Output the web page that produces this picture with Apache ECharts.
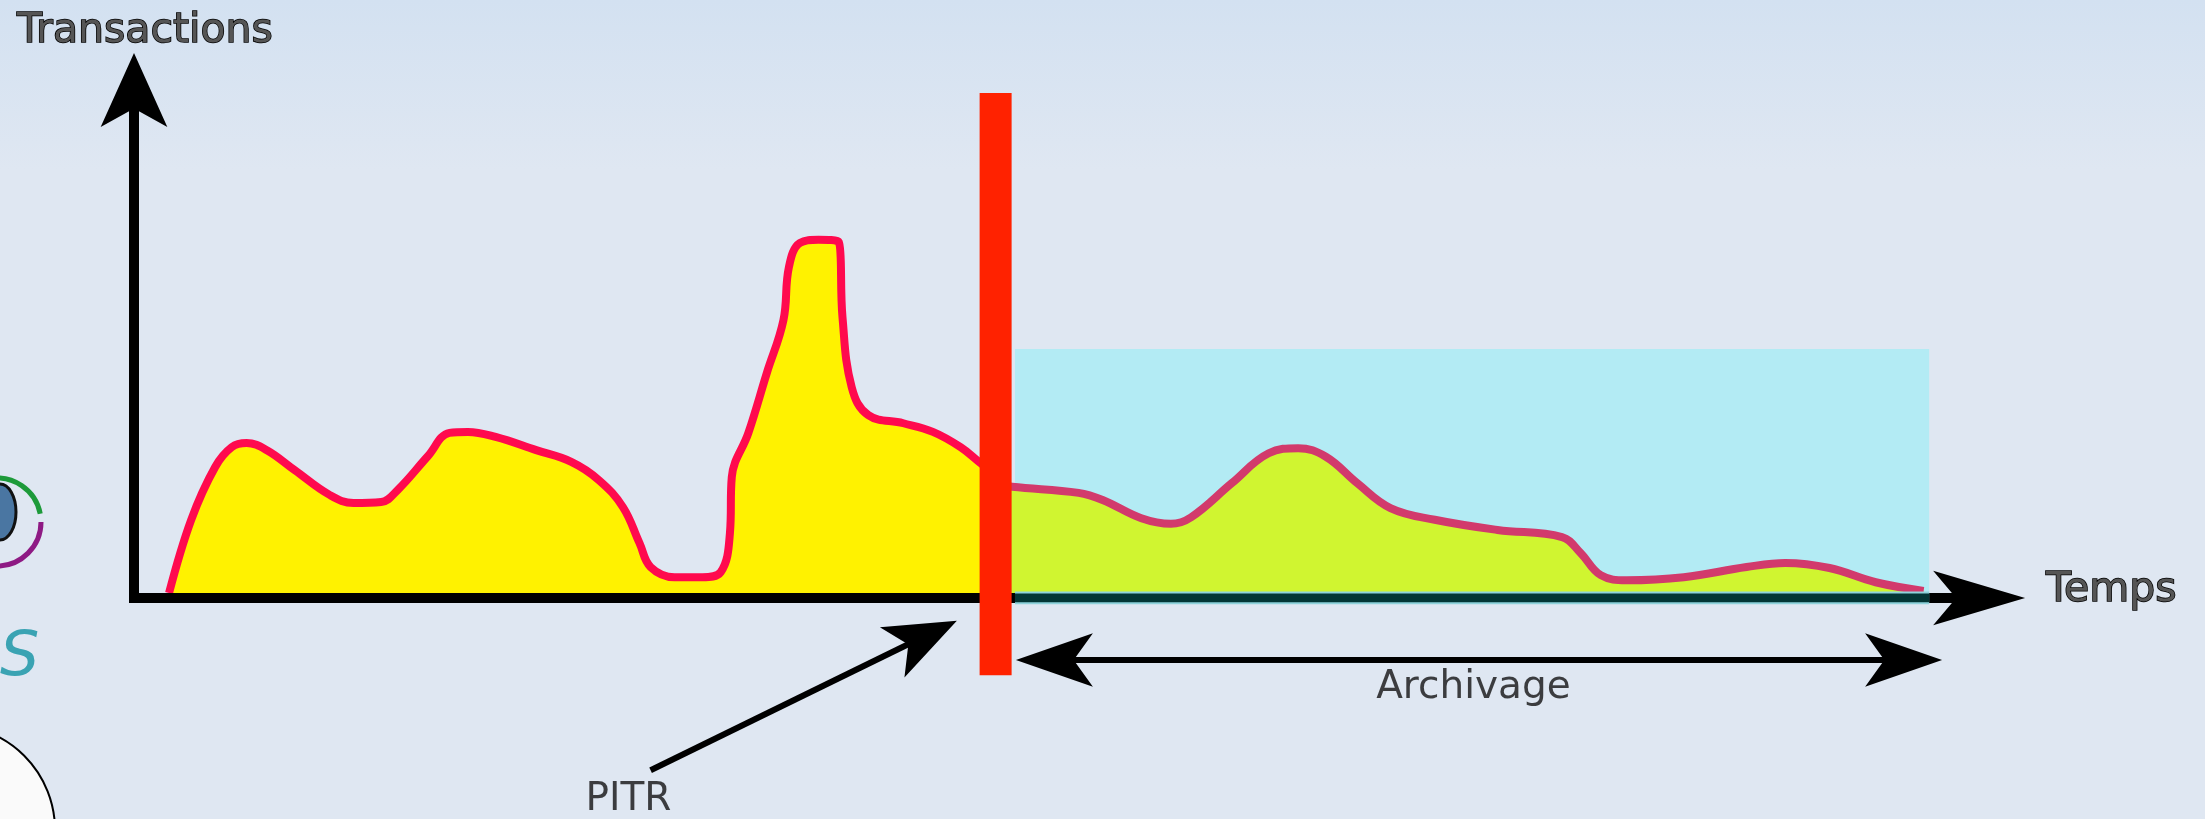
<!DOCTYPE html>
<html>
<head>
<meta charset="utf-8">
<title>PITR - Archivage</title>
<script src="https://cdn.jsdelivr.net/npm/echarts@6/dist/echarts.min.js"></script>
<style>
html, body { margin: 0; padding: 0; }
body { background: linear-gradient(to bottom, #d3e1f1 0px, #dfe7f2 170px, #dfe7f2 100%); }
#chart { width: 2205px; height: 819px; }
</style>
</head>
<body>
<div id="chart"></div>
<script>
// axes: temps 0-100, transactions 0-100
const avantTemps = [1.9, 3.1, 4.4, 5.3, 6.1, 7.2, 8.7, 10.6, 11.9, 13.4, 14.3, 15.9, 17.1, 18.1, 19.6, 21.8, 23.7, 25.2, 26.5, 27.4, 28.0, 29.3, 30.8, 31.8, 32.3, 32.4, 33.3, 34.3, 35.2, 35.5, 36.1, 37.1, 38.2, 38.4, 38.9, 39.8, 41.7, 43.3, 44.8, 45.8, 46.7]
const avantTx = [1.0, 15.4, 25.8, 29.7, 30.5, 29.1, 25.2, 20.3, 18.7, 18.9, 21.3, 27.8, 32.5, 32.7, 31.7, 29.1, 26.8, 23.2, 17.9, 10.8, 6.1, 4.1, 4.1, 5.1, 12.8, 23.8, 32.5, 44.3, 54.7, 65.2, 69.9, 70.5, 70.1, 55.3, 41.5, 36.0, 34.4, 32.7, 29.7, 26.8, 24.2]

const apresTemps = [46.7, 47.6, 51.2, 52.5, 54.6, 56.2, 57.3, 59.5, 61.5, 63.1, 64.6, 66.3, 68.1, 70.5, 73.9, 77.4, 78.4, 79.5, 80.9, 84.0, 87.4, 89.5, 91.9, 94.4, 97.0]
const apresTx = [22.5, 21.9, 20.7, 19.3, 15.7, 14.6, 15.9, 22.6, 28.5, 29.5, 27.8, 22.6, 17.7, 15.4, 13.4, 12.0, 8.9, 4.5, 3.5, 4.1, 6.1, 6.9, 5.9, 3.1, 1.4]

// point de restauration (PITR) et fenetre d'archivage
const pitrTemps = 46.7
const pitrBarre = [-15.2, 99.4]
const archiveTemps = [47.75, 97.3]
const archiveHaut = 49.0

// fleches: trait [depart, arrivee], pointes [pointe, rotation]
const flecheArchivage = [[49.5, -12.2], [96.3, -12.2]]
const pointesArchivage = [[[47.8, -12.2], 90], [[98.0, -12.2], -90]]
const flechePitr = [[28.0, -33.9], [43.1, -7.1]]
const pointePitr = [[44.6, -4.5], -64]
const pointesAxes = [[[102.5, 0], -90], [[0, 107.3], 0]]

const etiquettes = ['PITR', 'Archivage']
const etiquettesPos = [[26.8, -39.8], [72.6, -17.7]]

const zip = (xs, ys) => xs.map((x, i) => [x, ys[i]])

const titleStyle = {
  fontFamily: 'DejaVu Sans',
  fontSize: 41,
  fontWeight: 'normal',
  color: '#555',
  textBorderColor: '#000',
  textBorderWidth: 1.5,
  textShadowColor: '#111',
  textShadowOffsetX: -4,
  textShadowBlur: 0
}

const chart = echarts.init(document.getElementById('chart'))

const pointe = (p, size) => ({
  value: p[0],
  symbolRotate: p[1],
  symbolSize: size
})

const option = {
  backgroundColor: 'transparent',
  animation: false,
  title: {
    text: 'Transactions',
    left: 12,
    top: 6,
    textStyle: titleStyle
  },
  grid: { left: 134, right: 226, top: 90, bottom: 221, containLabel: false },
  xAxis: {
    type: 'value',
    min: 0,
    max: 100,
    z: 5,
    name: 'Temps',
    nameLocation: 'end',
    nameGap: 67,
    nameTextStyle: Object.assign({}, titleStyle, { verticalAlign: 'bottom', lineHeight: 16 }),
    axisLine: {
      show: true,
      lineStyle: { color: '#000', width: 10, cap: 'square' }
    },
    axisTick: { show: false },
    axisLabel: { show: false },
    splitLine: { show: false }
  },
  yAxis: {
    type: 'value',
    min: 0,
    max: 100,
    z: 5,
    axisLine: {
      show: true,
      lineStyle: { color: '#000', width: 10, cap: 'square' }
    },
    axisTick: { show: false },
    axisLabel: { show: false },
    splitLine: { show: false }
  },
  series: [
    {
      name: 'archive',
      type: 'line',
      z: 1,
      symbol: 'none',
      data: [[archiveTemps[0], archiveHaut], [archiveTemps[1], archiveHaut]],
      lineStyle: { width: 0 },
      areaStyle: { color: '#b3ebf4', opacity: 1 }
    },
    {
      name: 'avant',
      type: 'line',
      z: 3,
      symbol: 'none',
      smooth: 0.4,
      data: zip(avantTemps, avantTx),
      lineStyle: { color: '#ff0a4e', width: 8 },
      areaStyle: { color: '#fff200', opacity: 1 }
    },
    {
      name: 'apres',
      type: 'line',
      z: 3,
      symbol: 'none',
      smooth: 0.4,
      data: zip(apresTemps, apresTx),
      lineStyle: { color: '#d23a6c', width: 8 },
      areaStyle: { color: '#d0f530', opacity: 1 }
    },
    {
      name: 'axe archive bord',
      type: 'line',
      z: 6,
      symbol: 'none',
      data: [[archiveTemps[0], 0], [archiveTemps[1], 0]],
      lineStyle: { color: '#8fd3dc', width: 13 }
    },
    {
      name: 'axe archive',
      type: 'line',
      z: 7,
      symbol: 'none',
      data: [[archiveTemps[0], 0], [archiveTemps[1], 0]],
      lineStyle: { color: '#033636', width: 9 }
    },
    {
      name: 'pitr',
      type: 'line',
      z: 8,
      clip: false,
      symbol: 'none',
      data: [[pitrTemps, pitrBarre[0]], [pitrTemps, pitrBarre[1]]],
      lineStyle: { color: '#ff2200', width: 32, cap: 'butt' }
    },
    {
      name: 'trait archivage',
      type: 'line',
      z: 8,
      clip: false,
      symbol: 'none',
      data: flecheArchivage,
      lineStyle: { color: '#000', width: 6 }
    },
    {
      name: 'trait pitr',
      type: 'line',
      z: 8,
      clip: false,
      symbol: 'none',
      data: flechePitr,
      lineStyle: { color: '#000', width: 6 }
    },
    {
      name: 'pointes',
      type: 'scatter',
      z: 9,
      clip: false,
      symbol: 'arrow',
      itemStyle: { color: '#000', opacity: 1 },
      data: [
        pointe(pointesArchivage[0], [40, 77]),
        pointe(pointesArchivage[1], [40, 77]),
        pointe(pointePitr, [42, 72]),
        pointe(pointesAxes[0], [41, 92]),
        pointe(pointesAxes[1], [50, 74])
      ]
    },
    {
      name: 'textes',
      type: 'scatter',
      z: 9,
      clip: false,
      symbolSize: 0,
      data: etiquettes.map((t, i) => ({ name: t, value: etiquettesPos[i] })),
      label: {
        show: true,
        position: 'inside',
        formatter: '{b}',
        fontFamily: 'DejaVu Sans',
        fontSize: 39,
        color: '#111'
      }
    }
  ],
  graphic: [
    { type: 'arc', shape: { cx: -3, cy: 522, r: 44, startAngle: -Math.PI * 0.56, endAngle: -Math.PI * 0.06 },
      style: { stroke: '#1d9a3a', lineWidth: 5, fill: null } },
    { type: 'arc', shape: { cx: -3, cy: 522, r: 44, startAngle: 0, endAngle: Math.PI * 0.55 },
      style: { stroke: '#8e1a84', lineWidth: 5, fill: null } },
    { type: 'ellipse', shape: { cx: 0, cy: 512, rx: 16, ry: 28 },
      style: { fill: '#4a76a2', stroke: '#111', lineWidth: 3 } },
    { type: 'text', left: 0, top: 628,
      style: { text: 'S', fontSize: 62, fontStyle: 'italic', fontFamily: 'DejaVu Sans', fill: '#3aa3b3' } },
    { type: 'circle', shape: { cx: -50, cy: 830, r: 105 },
      style: { fill: '#fafafa', stroke: '#000', lineWidth: 2 } }
  ]
}

chart.setOption(option)
</script>
</body>
</html>
